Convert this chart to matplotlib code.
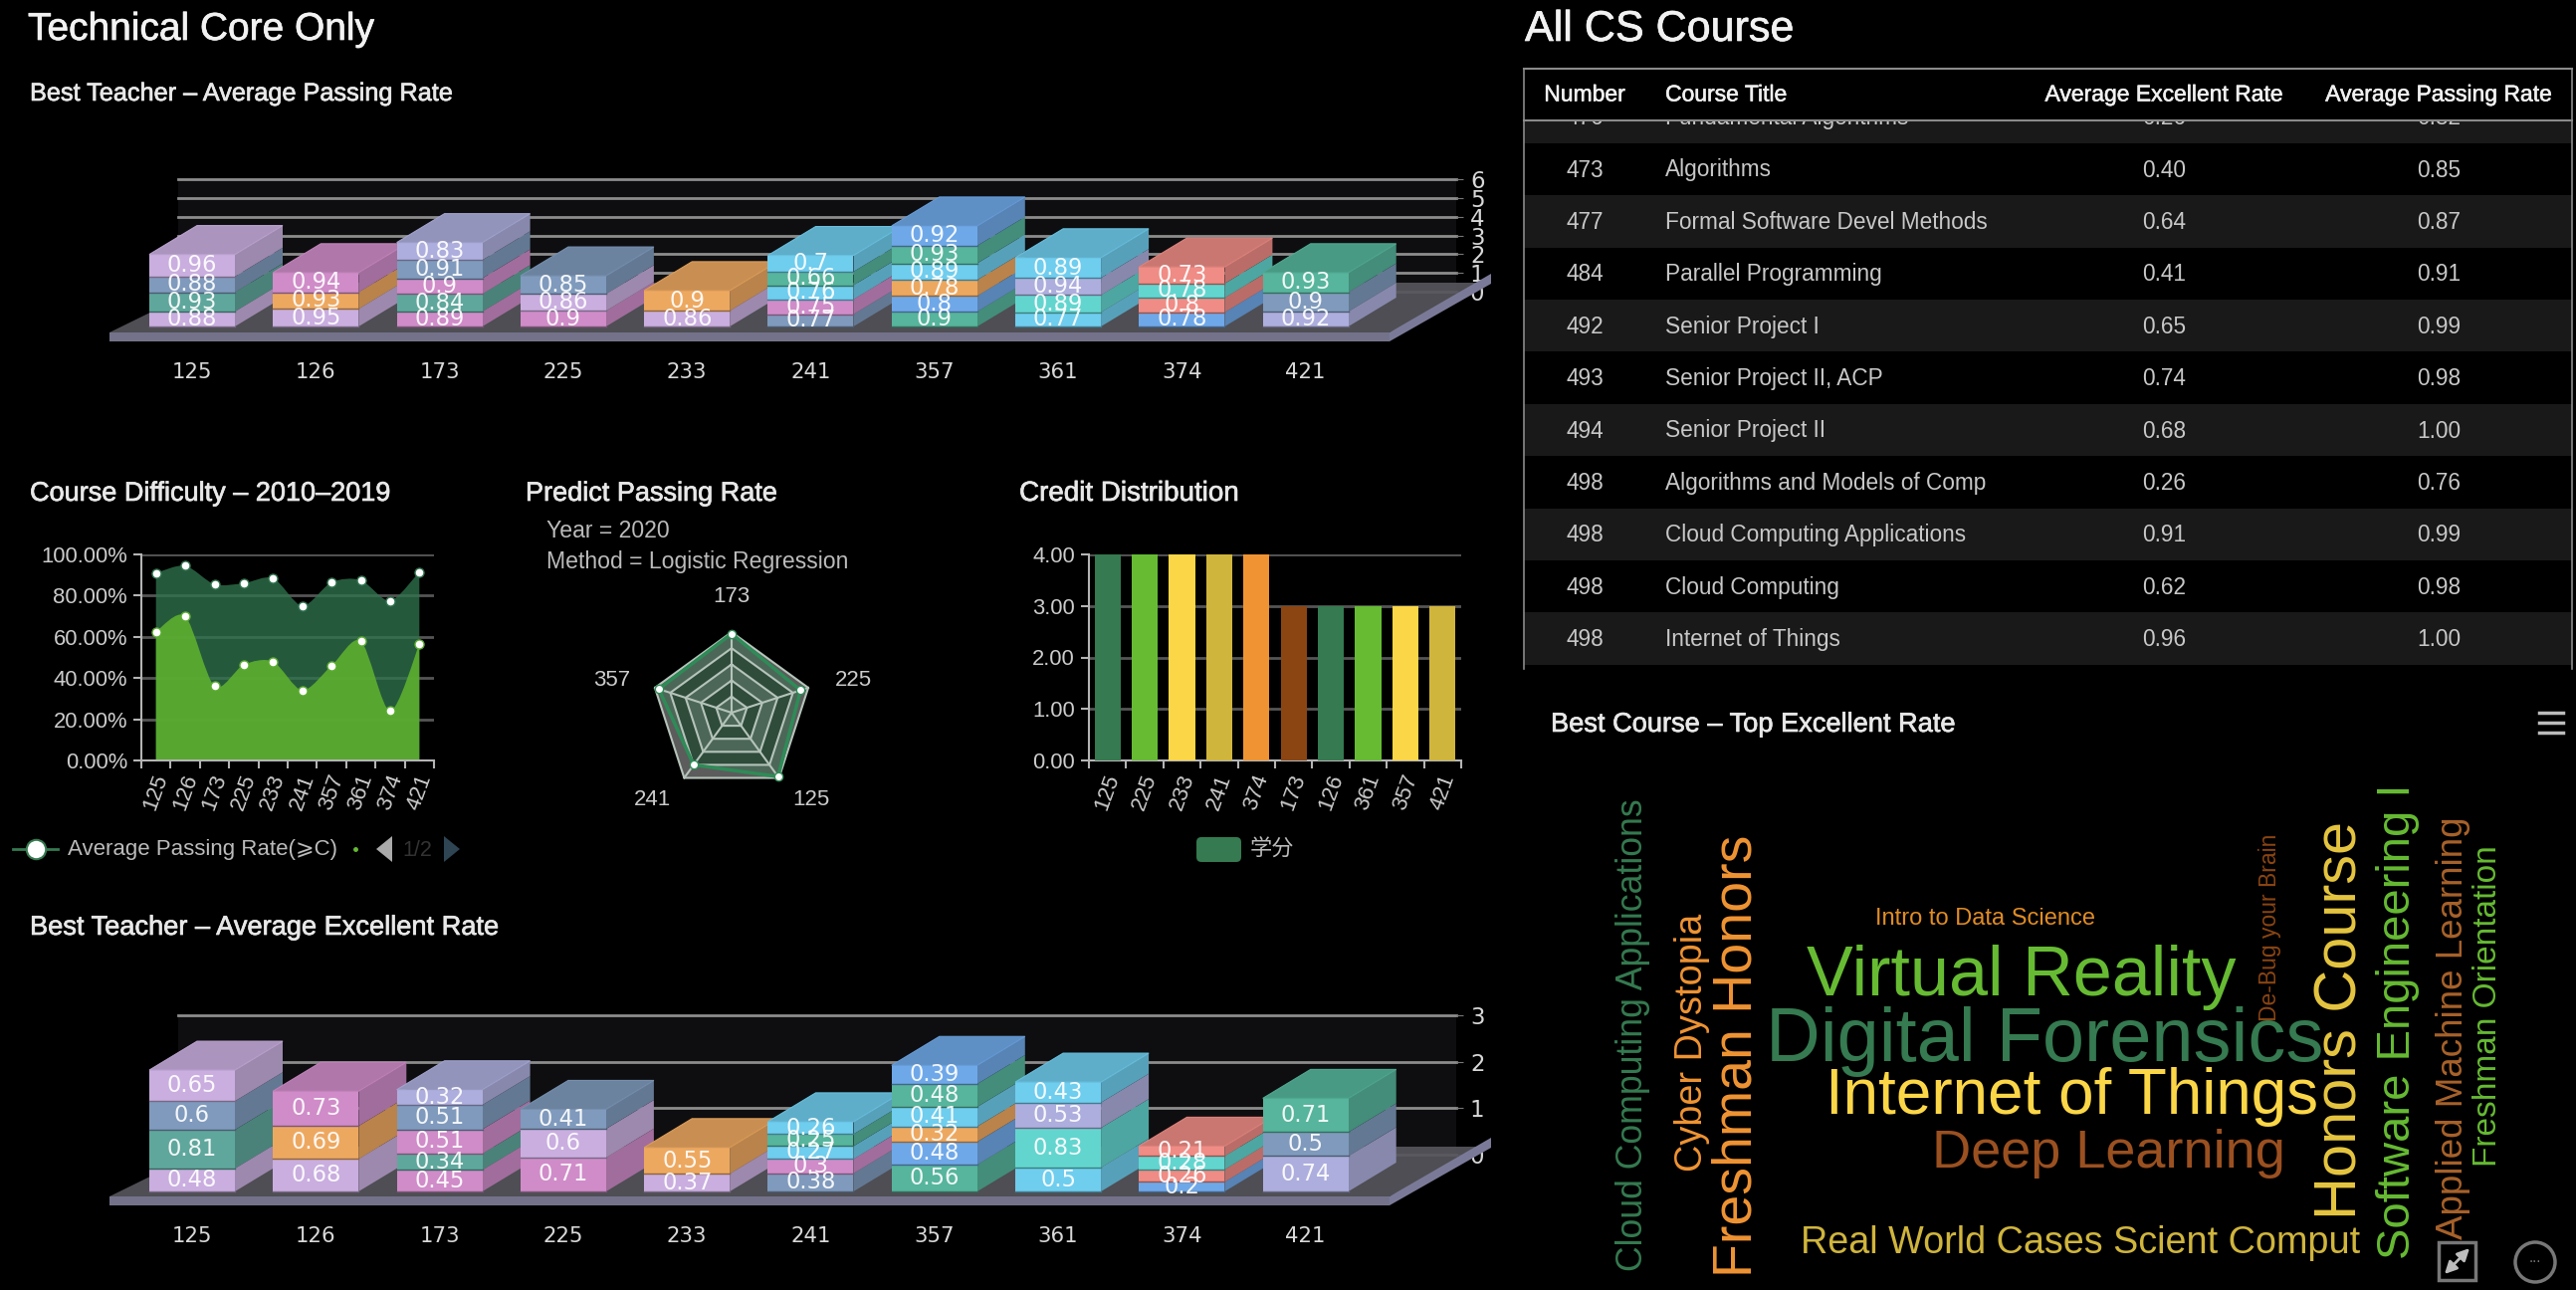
"""Course dashboard recreated on a black canvas: 3D stacks, area, radar, bars, table, word cloud."""
import matplotlib
matplotlib.use("Agg")
import matplotlib.patheffects as pe
import matplotlib.pyplot as plt
import matplotlib.colors as mcolors
import numpy as np
from matplotlib.patches import FancyBboxPatch, PathPatch, Polygon, Rectangle, Circle
from matplotlib.path import Path

W, H = 2588, 1296
plt.rcParams["font.family"] = ["Liberation Sans", "DejaVu Sans"]

COURSES = ["125", "126", "173", "225", "233", "241", "357", "361", "374", "421"]

LILAC = "#C9AEDF"
SLATE = "#7F9ABC"
TEAL = "#5FA79C"
PINK = "#CF8CC8"
ORANGE = "#EDA860"
SKY = "#6FCDEE"
BLUE = "#6FA8E8"
GREEN = "#56B59C"
PERI = "#ADAEDD"
TURQ = "#63D5CF"
SALMON = "#EF8C85"

STACK_COLORS = [
    [LILAC, TEAL, SLATE, LILAC],
    [LILAC, ORANGE, PINK],
    [PINK, TEAL, PINK, SLATE, PERI],
    [PINK, LILAC, SLATE],
    [LILAC, ORANGE],
    [SLATE, PINK, SKY, GREEN, SKY],
    [GREEN, BLUE, ORANGE, SKY, GREEN, BLUE],
    [SKY, TURQ, PERI, SKY],
    [BLUE, SALMON, TURQ, SALMON],
    [PERI, SLATE, GREEN],
]

# drawn height of each layer
PASS_HEIGHTS = [
    [0.79, 1.02, 0.83, 1.17],
    [0.93, 0.88, 1.04],
    [0.79, 0.93, 0.83, 0.96, 0.93],
    [0.83, 0.89, 0.96],
    [0.83, 1.07],
    [0.65, 0.79, 0.74, 0.72, 0.86],
    [0.79, 0.83, 0.84, 0.88, 0.93, 1.05],
    [0.75, 0.91, 0.91, 1.07],
    [0.75, 0.77, 0.75, 0.88],
    [0.79, 1.02, 1.04],
]
PASS_LABELS = [
    ["0.88", "0.93", "0.88", "0.96"],
    ["0.95", "0.93", "0.94"],
    ["0.89", "0.84", "0.9", "0.91", "0.83"],
    ["0.9", "0.86", "0.85"],
    ["0.86", "0.9"],
    ["0.77", "0.75", "0.76", "0.66", "0.7"],
    ["0.9", "0.8", "0.78", "0.89", "0.93", "0.92"],
    ["0.77", "0.89", "0.94", "0.89"],
    ["0.78", "0.8", "0.78", "0.73"],
    ["0.92", "0.9", "0.93"],
]
EXCEL_VALUES = [
    [0.48, 0.81, 0.6, 0.65],
    [0.68, 0.69, 0.73],
    [0.45, 0.34, 0.51, 0.51, 0.32],
    [0.71, 0.6, 0.41],
    [0.37, 0.55],
    [0.38, 0.3, 0.27, 0.25, 0.26],
    [0.56, 0.48, 0.32, 0.41, 0.48, 0.39],
    [0.5, 0.83, 0.53, 0.43],
    [0.2, 0.26, 0.28, 0.21],
    [0.74, 0.5, 0.71],
]

AVG_PASSING = [91, 94.5, 85.5, 86, 88.5, 75, 86.5, 87.5, 77.5, 91.5]
AVG_EXCELLENT = [62.5, 70, 36, 46.5, 48, 34, 46, 58, 24, 56.5]

RADAR_COURSES = ["173", "225", "125", "241", "357"]
RADAR_VALUES = [0.98, 0.9, 0.98, 0.8, 0.95]
RADAR_NUDGE = [(0, -3.6), (5, -3.6), (6, 8), (-6, 8), (-3.6, -3.6)]

CREDIT_COURSES = ["125", "225", "233", "241", "374", "173", "126", "361", "357", "421"]
CREDIT_VALUES = [4, 4, 4, 4, 4, 3, 3, 3, 3, 3]
CREDIT_COLORS = ["#357A50", "#66BB33", "#FBD647", "#D0B53C", "#F09433", "#8B4513",
                 "#357A50", "#66BB33", "#FBD647", "#D0B53C"]

TABLE_HEADER = ["Number", "Course Title", "Average Excellent Rate", "Average Passing Rate"]
TABLE_NUMBERS = ["476", "473", "477", "484", "492", "493", "494", "498", "498", "498", "498"]
TABLE_TITLES = ["Fundamental Algorithms", "Algorithms", "Formal Software Devel Methods",
                "Parallel Programming", "Senior Project I", "Senior Project II, ACP",
                "Senior Project II", "Algorithms and Models of Comp",
                "Cloud Computing Applications", "Cloud Computing", "Internet of Things"]
TABLE_EXCELLENT = ["0.26", "0.40", "0.64", "0.41", "0.65", "0.74", "0.68", "0.26", "0.91", "0.62", "0.96"]
TABLE_PASSING = ["0.82", "0.85", "0.87", "0.91", "0.99", "0.98", "1.00", "0.76", "0.99", "0.98", "1.00"]
TABLE_SHADED = [True, False, True, False, True, False, True, False, True, False, True]

# word, x, y, font size, rotation, colour
CLOUD_WORDS = [
    ("Cloud Computing Applications", 1640, 1040, 25.7, 90, "#357A50"),
    ("Cyber Dystopia", 1700, 1047, 27.3, 90, "#F09433"),
    ("Freshman Honors", 1746, 1061, 40, 90, "#F09433"),
    ("Intro to Data Science", 1994, 923, 17, 0, "#E08C25"),
    ("Virtual Reality", 2031, 982, 50.5, 0, "#66BB33"),
    ("Digital Forensics", 2054, 1047, 54.5, 0, "#357A50"),
    ("Internet of Things", 2081, 1102, 46, 0, "#FBD647"),
    ("Deep Learning", 2118, 1159, 39, 0, "#9B5020"),
    ("Real World Cases Scient Comput", 2090, 1249, 27.2, 0, "#D0B53C"),
    ("De-Bug your Brain", 2280, 932, 16.5, 90, "#8B4513"),
    ("Honors Course", 2352, 1025, 42.8, 90, "#E6C640"),
    ("Software Engineering I", 2409, 1026, 34, 90, "#66BB33"),
    ("Applied Machine Learning", 2465, 1033, 26.5, 90, "#A8622A"),
    ("Freshman Orientation", 2499, 1011, 24, 90, "#66BB33"),
]


def px_axes(fig, x0, y0, x1, y1, **kwargs):
    return fig.add_axes([x0 / W, 1 - y1 / H, (x1 - x0) / W, (y1 - y0) / H], **kwargs)


def shade(color, factor):
    return tuple(min(1.0, c * factor) for c in mcolors.to_rgb(color))


def draw_deck(canvas, strip_top, strip_bottom, back_y, corner_y):
    canvas.add_patch(Polygon([(110, strip_top), (1396, strip_top), (1498, back_y), (212, back_y)],
                             color="#55555c", alpha=0.92, lw=0))
    canvas.add_patch(Rectangle((110, strip_top), 1286, strip_bottom - strip_top, color="#74728a", lw=0))
    canvas.add_patch(Polygon([(1396, strip_top), (1396, strip_bottom), (1498, corner_y + 10), (1498, corner_y)],
                             color="#7a7a98", lw=0))


def draw_stacks(fig, canvas, heights, labels, base, unit, strip_bottom, top_px):
    centers_first, spacing = 193, 124.3
    ax = px_axes(fig, 110, top_px, 1500, strip_bottom, zorder=3)
    ax.patch.set_alpha(0)
    ax.set_xlim((110 - centers_first) / spacing, (1500 - centers_first) / spacing)
    ax.set_ylim(-(strip_bottom - base) / unit, (base - top_px) / unit)
    for s in ax.spines.values():
        s.set_visible(False)
    ax.set_yticks([])
    ax.set_xticks(range(len(COURSES)), COURSES, family="DejaVu Sans", fontsize=15.3, color="#d8d8d8")
    ax.tick_params(axis="x", length=0, pad=15)

    half = 43 / spacing
    dx, dy = 48 / spacing, 29 / unit
    for i, layer_heights in enumerate(heights):
        bottom = 0.0
        n = len(layer_heights)
        for k, h in enumerate(layer_heights):
            c = STACK_COLORS[i][k]
            top = bottom + h
            x0, x1 = i - half, i + half
            ax.add_patch(Polygon([(x1, bottom), (x1 + dx, bottom + dy), (x1 + dx, top + dy), (x1, top)],
                                 color=shade(c, 0.78), lw=0))
            ax.bar(i, h, width=2 * half, bottom=bottom, color=c, linewidth=0)
            ax.plot([x0, x1], [bottom, bottom], color=shade(c, 0.6), lw=1)
            if k == n - 1:
                ax.add_patch(Polygon([(x0, top), (x1, top), (x1 + dx, top + dy), (x0 + dx, top + dy)],
                                     facecolor=shade(c, 0.85), edgecolor=shade(c, 0.93), lw=0.8))
            ax.text(i, bottom + h / 2, labels[i][k], ha="center", va="center", family="DejaVu Sans",
                    fontsize=16.3, color="white", alpha=0.92)
            bottom = top
    return ax


def draw_wall(fig, zero_y, top_y, ymax):
    wall = px_axes(fig, 179, top_y, 1463, zero_y, zorder=1)
    wall.set_facecolor("#0e0e10")
    wall.set_xticks([])
    wall.set_ylim(0, ymax)
    wall.set_yticks(range(ymax + 1))
    wall.yaxis.tick_right()
    wall.tick_params(axis="y", length=5, color="#777", labelcolor="#d8d8d8", pad=5, labelsize=16.5)
    for lab in wall.get_yticklabels():
        lab.set_family("DejaVu Sans")
    wall.yaxis.grid(True, color="#8c8c8c", lw=2)
    for line in wall.get_ygridlines():
        line.set_clip_on(False)
    for s in wall.spines.values():
        s.set_visible(False)
    return wall


def smooth_outline(xs, ys, k=0.85):
    # bezier through the data points, tangent from the neighbouring points
    pts = np.column_stack([xs, ys]).astype(float)
    verts = [tuple(pts[0])]
    codes = [Path.MOVETO]
    for i in range(len(pts) - 1):
        prev_pt = pts[max(i - 1, 0)]
        next_pt = pts[min(i + 2, len(pts) - 1)]
        c1 = pts[i] + (pts[i + 1] - prev_pt) / 6 * k
        c2 = pts[i + 1] - (next_pt - pts[i]) / 6 * k
        verts += [tuple(c1), tuple(c2), tuple(pts[i + 1])]
        codes += [Path.CURVE4] * 3
    return verts, codes


def style_cartesian(ax, labels):
    ax.patch.set_alpha(0)
    for name in ("top", "right"):
        ax.spines[name].set_visible(False)
    for name in ("left", "bottom"):
        ax.spines[name].set_color("#b4b4b4")
        ax.spines[name].set_linewidth(1.5)
    n = len(labels)
    ax.set_xlim(-0.5, n - 0.5)
    ax.set_xticks(np.arange(n + 1) - 0.5)
    ax.set_xticklabels([])
    ax.set_xticks(range(n), labels, minor=True, rotation=70, fontsize=15.8, color="#cccccc")
    ax.tick_params(axis="x", which="major", length=6, color="#b4b4b4", width=1.5)
    ax.tick_params(axis="x", which="minor", length=0, pad=8)
    ax.tick_params(axis="y", length=6, color="#b4b4b4", width=1.5, labelsize=15.8, labelcolor="#cccccc", pad=4)
    ax.yaxis.grid(True, color="#555555", lw=2)
    ax.set_axisbelow(True)


def draw_area(fig, canvas):
    ax = px_axes(fig, 142, 557, 436, 764, zorder=2)
    style_cartesian(ax, COURSES)
    ax.set_ylim(0, 100)
    ax.set_yticks(range(0, 101, 20), [f"{v:.2f}%" for v in range(0, 101, 20)])
    xs = np.arange(len(COURSES))
    for values, color, alpha in ((AVG_PASSING, "#30734E", 0.78), (AVG_EXCELLENT, "#5BAD30", 0.93)):
        verts, codes = smooth_outline(xs, values)
        verts += [(xs[-1], 0), (xs[0], 0), (xs[0], values[0])]
        codes += [Path.LINETO, Path.LINETO, Path.LINETO]
        ax.add_patch(PathPatch(Path(verts, codes), facecolor=color, alpha=alpha, lw=0))
        ax.plot(xs, values, "o", ms=6.5, mfc="white", mec=color, mew=1, clip_on=False, ls="none")

    canvas.plot([13, 58], [853, 853], color="#357A50", lw=2)
    canvas.plot([36], [853], "o", ms=14, mfc="white", mec="#357A50", mew=1.5)
    canvas.text(68, 854, "Average Passing Rate(⩾C)", va="center", fontsize=16, color="#bbbbbb")
    canvas.plot([357], [853], "o", ms=2.5, color="#66BB33")
    canvas.add_patch(Polygon([(378, 853), (394, 840), (394, 866)], color="#aaaaaa", lw=0))
    canvas.text(419, 854, "1/2", ha="center", va="center", fontsize=15.5, color="#333333")
    canvas.add_patch(Polygon([(462, 853), (446, 840), (446, 866)], color="#2f4554", lw=0))


def draw_radar(fig):
    # polar axes centred on the pentagon, radius 1 is the outer ring
    r_px = 81
    cx, cy = 735, 716
    ax = px_axes(fig, cx - r_px, cy - r_px, cx + r_px, cy + r_px, projection="polar", zorder=2)
    ax.set_theta_zero_location("N")
    ax.set_theta_direction(-1)
    ax.set_ylim(0, 1)
    ax.axis("off")
    theta = np.linspace(0, 2 * np.pi, len(RADAR_COURSES), endpoint=False)
    closed = np.append(theta, theta[0])
    rings = [1.0, 0.8, 0.6, 0.4, 0.2]
    for j, r in enumerate(rings):
        ax.fill(closed, [r] * len(closed), color="#5c5c5c" if j % 2 == 0 else "#2c2c2c", lw=0, clip_on=False)
    vals = RADAR_VALUES + RADAR_VALUES[:1]
    ax.fill(closed, vals, color="#357A50", alpha=0.4, lw=0, clip_on=False)
    for r in rings:
        ax.plot(closed, [r] * len(closed), color="#b5c4ba", lw=1.5, clip_on=False)
    for t in theta:
        ax.plot([t, t], [0, 1], color="#b5c4ba", lw=1.5, clip_on=False)
    ax.plot(closed, vals, color="#2E8B57", lw=2.5, clip_on=False)
    ax.plot(theta, RADAR_VALUES, "o", ms=6, mfc="white", mec="#2E8B57", mew=1, clip_on=False, ls="none")
    for t, name, nudge in zip(theta, RADAR_COURSES, RADAR_NUDGE):
        ax.annotate(name, xy=(t, 1.5), xytext=nudge, textcoords="offset points", ha="center", va="center",
                    fontsize=16, color="#cccccc", annotation_clip=False)


def draw_credit(fig, canvas):
    ax = px_axes(fig, 1094, 557, 1468, 764, zorder=2)
    style_cartesian(ax, CREDIT_COURSES)
    ax.set_ylim(0, 4)
    ax.set_yticks(range(5), [f"{v:.2f}" for v in range(5)])
    ax.bar(range(len(CREDIT_VALUES)), CREDIT_VALUES, width=0.7, color=CREDIT_COLORS, zorder=3)
    canvas.add_patch(FancyBboxPatch((1205, 844), 39, 19, boxstyle="round,pad=3,rounding_size=5",
                                    color="#357A50", lw=0))
    canvas.text(1256, 853, "学分", va="center", fontsize=16, color="#bbbbbb",
                family=["Noto Sans CJK SC", "DejaVu Sans"])


def draw_table(canvas):
    left, right = 1531, 2584
    col_num, col_title, col_excel, col_pass = 1592, 1673, 2174, 2450
    header_y = 95
    pitch = 52.4
    first_y = 170 - pitch

    clip = Rectangle((left, 122), right - left, 560, transform=canvas.transData)
    for i in range(len(TABLE_NUMBERS)):
        y = first_y + i * pitch
        if TABLE_SHADED[i]:
            top = max(y - pitch / 2, 121)
            canvas.add_patch(Rectangle((left, top), right - left, y + pitch / 2 - top, color="#191919", lw=0))
        cells = [(col_num, TABLE_NUMBERS[i], "center"), (col_title, TABLE_TITLES[i], "left"),
                 (col_excel, TABLE_EXCELLENT[i], "center"), (col_pass, TABLE_PASSING[i], "center")]
        for x, txt, ha in cells:
            t = canvas.text(x, y + 1, txt, ha=ha, va="center", fontsize=16.3, color="#c8c8c8", clip_on=True)
            t.set_clip_path(clip)

    for x, txt, ha in zip((col_num, col_title, col_excel, col_pass), TABLE_HEADER,
                          ("center", "left", "center", "center")):
        canvas.text(x, header_y, txt, ha=ha, va="center", fontsize=16.5, color="#f0f0f0",
                    path_effects=[pe.withStroke(linewidth=0.4, foreground="#f0f0f0")])

    canvas.plot([left, right], [69, 69], color="#8a8a8a", lw=1.5)
    canvas.plot([left, right], [121, 121], color="#8a8a8a", lw=1.5)
    canvas.plot([left, left], [69, 672], color="#8a8a8a", lw=1.2)
    canvas.plot([right, right], [69, 672], color="#8a8a8a", lw=1.2)


def draw_cloud(canvas):
    for word, x, y, size, rot, color in CLOUD_WORDS:
        canvas.text(x, y, word, ha="center", va="center", rotation=rot, fontsize=size, color=color)
    for y in (716, 726, 736):
        canvas.plot([2551, 2575], [y, y], color="#bbbbbb", lw=2.5)
    canvas.add_patch(Rectangle((2450, 1248), 37, 38, fill=False, ec="#777777", lw=2.5))
    canvas.annotate("", xy=(2483, 1252), xytext=(2454, 1282),
                    arrowprops=dict(arrowstyle="<|-|>", color="#bdbdbd", lw=2, mutation_scale=18))
    canvas.add_patch(Circle((2547, 1268), 20, fill=False, ec="#777777", lw=2.5))
    canvas.text(2547, 1264, "...", ha="center", va="center", fontsize=11, color="#777777")


def main():
    fig = plt.figure(figsize=(W / 100, H / 100), dpi=100, facecolor="black")
    canvas = px_axes(fig, 0, 0, W, H, zorder=2)
    canvas.set_xlim(0, W)
    canvas.set_ylim(H, 0)
    canvas.axis("off")

    draw_wall(fig, 293, 180, 6)
    draw_wall(fig, 1160, 1020, 3)
    draw_deck(canvas, 334, 343, 284, 275)
    draw_deck(canvas, 1202, 1211, 1152, 1143)
    draw_stacks(fig, canvas, PASS_HEIGHTS, PASS_LABELS, 328, 19.0, 343, 150)
    draw_stacks(fig, canvas, EXCEL_VALUES, [[str(v) for v in row] for row in EXCEL_VALUES], 1197, 48.0, 1211, 1000)

    draw_area(fig, canvas)
    draw_radar(fig)
    draw_credit(fig, canvas)
    draw_table(canvas)
    draw_cloud(canvas)

    for x, y, txt, size, color in [
        (28, 30, "Technical Core Only", 28, "#f2f2f2"),
        (1532, 30, "All CS Course", 31, "#f2f2f2"),
        (30, 94, "Best Teacher – Average Passing Rate", 18.2, "#e8e8e8"),
        (30, 496, "Course Difficulty – 2010–2019", 19.5, "#e8e8e8"),
        (528, 496, "Predict Passing Rate", 19.5, "#e8e8e8"),
        (1024, 496, "Credit Distribution", 20, "#e8e8e8"),
        (30, 932, "Best Teacher – Average Excellent Rate", 19.6, "#e8e8e8"),
        (1558, 728, "Best Course – Top Excellent Rate", 19.6, "#e8e8e8"),
    ]:
        canvas.text(x, y, txt, va="center", fontsize=size, color=color,
                    path_effects=[pe.withStroke(linewidth=0.5, foreground=color)])
    canvas.text(549, 534, "Year = 2020", va="center", fontsize=16.6, color="#bbbbbb")
    canvas.text(549, 565, "Method = Logistic Regression", va="center", fontsize=16.6, color="#bbbbbb")

    fig.savefig("out.png", dpi=100, facecolor="black")
    plt.close(fig)


if __name__ == "__main__":
    main()
